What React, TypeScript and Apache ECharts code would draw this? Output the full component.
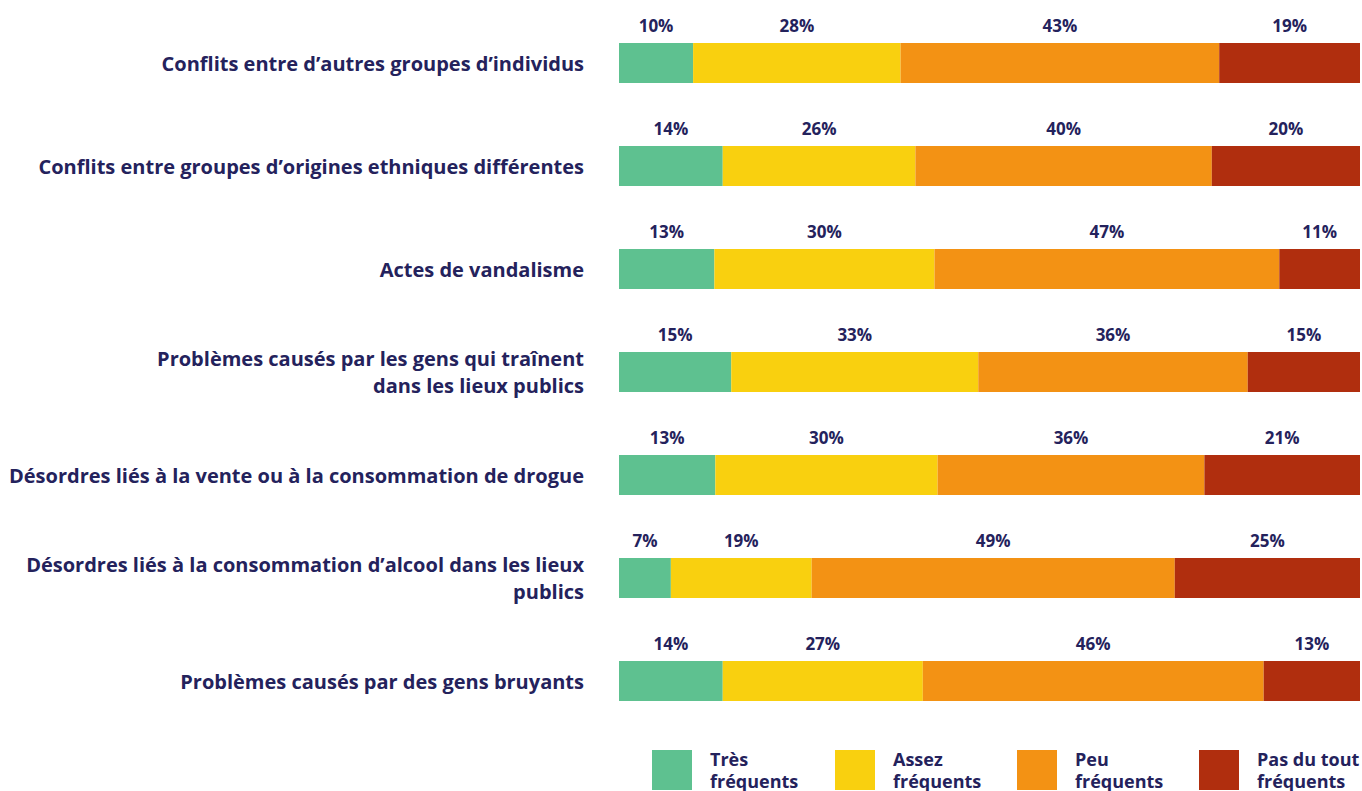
import React, { useEffect, useRef } from "react";
import * as echarts from "echarts";

const categories = [
  "Conflits entre d’autres groupes d’individus",
  "Conflits entre groupes d’origines ethniques différentes",
  "Actes de vandalisme",
  "Problèmes causés par les gens qui traînent\ndans les lieux publics",
  "Désordres liés à la vente ou à la consommation de drogue",
  "Désordres liés à la consommation d’alcool dans les lieux\npublics",
  "Problèmes causés par des gens bruyants",
];

const seriesNames = ["Très fréquents", "Assez fréquents", "Peu fréquents", "Pas du tout fréquents"];
const tresFrequents = [10, 14, 13, 15, 13, 7, 14];
const assezFrequents = [28, 26, 30, 33, 30, 19, 27];
const peuFrequents = [43, 40, 47, 36, 36, 49, 46];
const pasDuToutFrequents = [19, 20, 11, 15, 21, 25, 13];

const colors = ["#5EC190", "#F9D00F", "#F39214", "#B02E0E"];
const navy = "#24225C";
const fontFamily = "'Open Sans', 'Noto Sans', sans-serif";

export default function App() {
  const ref = useRef<HTMLDivElement>(null);

  useEffect(() => {
    if (!ref.current) return;
    const chart = echarts.init(ref.current, null, { renderer: "svg" });
    const raw = [tresFrequents, assezFrequents, peuFrequents, pasDuToutFrequents];
    const rowSums = categories.map((_, i) => raw.reduce((s, arr) => s + arr[i], 0));

    const legendLefts = [652, 835, 1017, 1199];

    chart.setOption({
      animation: false,
      grid: { left: 619, right: 2, top: 11.5, height: 721, containLabel: false },
      xAxis: { type: "value", min: 0, max: 100, show: false },
      yAxis: {
        type: "category",
        inverse: true,
        data: categories,
        axisLine: { show: false },
        axisTick: { show: false },
        splitLine: { show: false },
        axisLabel: {
          margin: 35,
          color: navy,
          fontSize: 20,
          fontWeight: "bold",
          fontFamily,
          lineHeight: 27,
          align: "right",
        },
      },
      legend: seriesNames.map((n, i) => ({
        data: [n],
        left: legendLefts[i],
        top: 748,
        padding: 0,
        itemWidth: 40,
        itemHeight: 40,
        icon: "rect",
        selectedMode: false,
        formatter: (name: string) => name.replace(" fréquents", "\nfréquents"),
        textStyle: {
          color: navy,
          fontSize: 18,
          fontWeight: "bold",
          fontFamily,
          lineHeight: 22,
          padding: [0, 0, 0, 13],
        },
      })),
      series: seriesNames.map((name, s) => ({
        name,
        type: "bar",
        stack: "total",
        barWidth: 40,
        itemStyle: { color: colors[s] },
        label: {
          show: true,
          position: "top",
          distance: 9,
          color: navy,
          fontSize: 17,
          fontWeight: "bold",
          fontFamily,
          formatter: (p: any) => raw[s][p.dataIndex] + "%",
        },
        data: raw[s].map((v, i) => (v / rowSums[i]) * 100),
      })),
    });
    return () => chart.dispose();
  }, []);

  return (
    <div
      ref={ref}
      style={{ position: "absolute", left: 0, top: 0, width: 1362, height: 791, background: "#fff" }}
    />
  );
}
